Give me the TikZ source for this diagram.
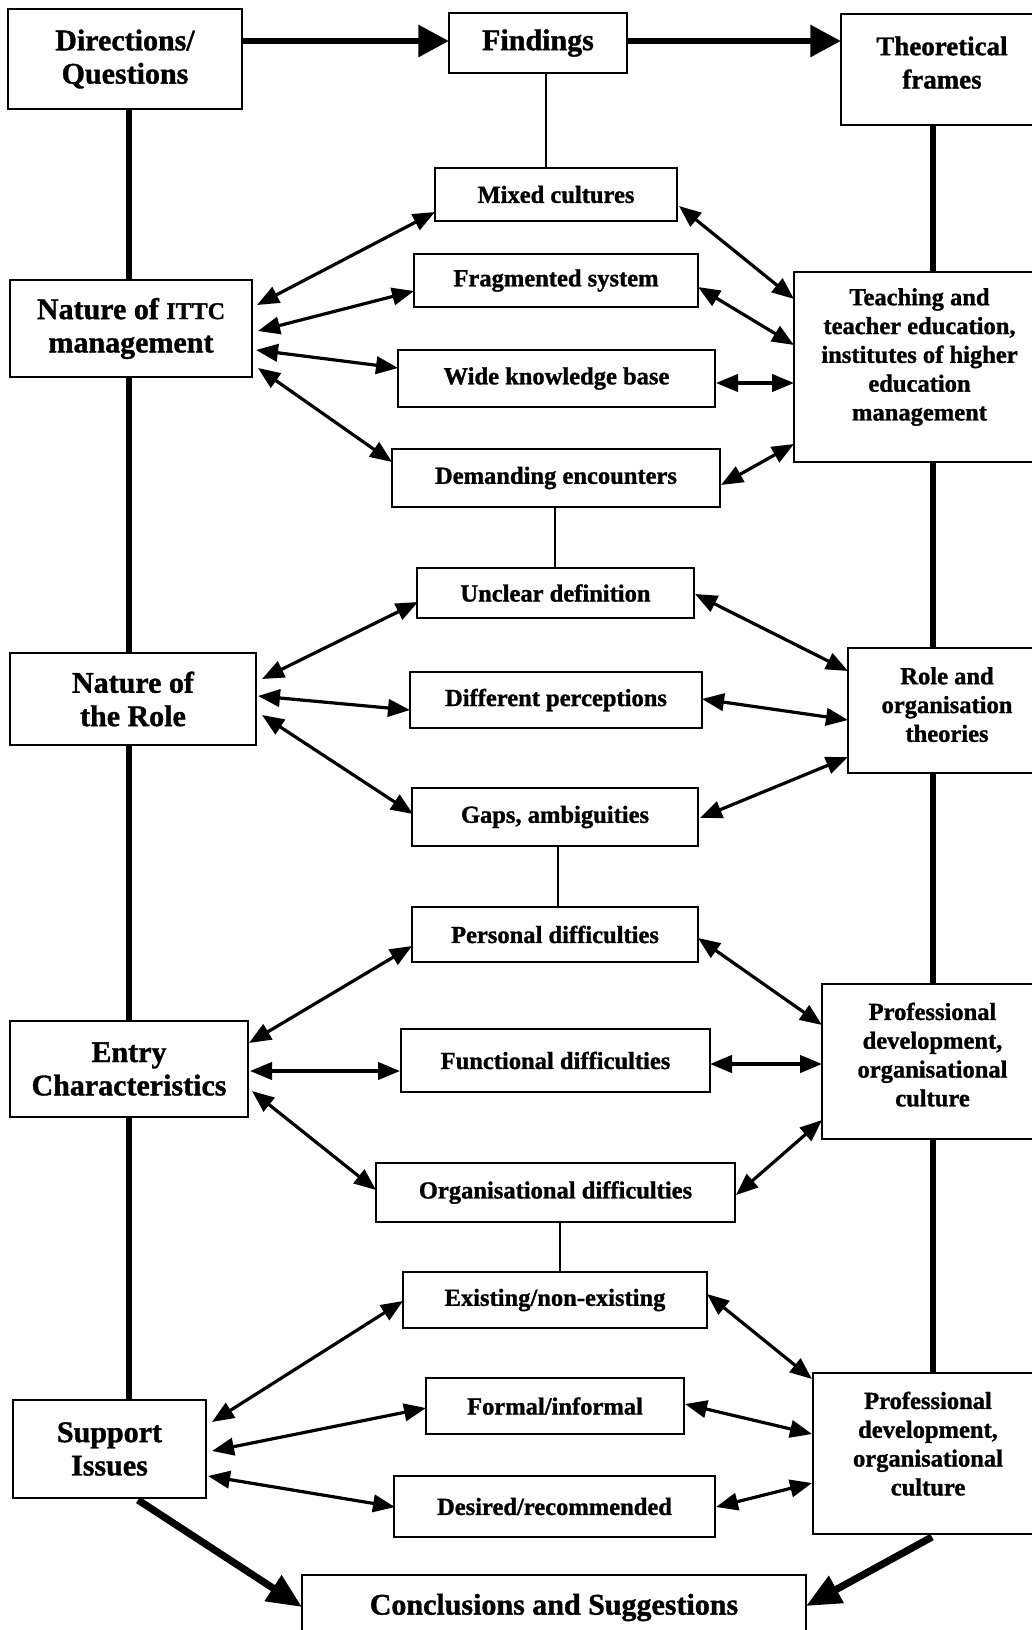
\documentclass[tikz,border=0pt]{standalone}
\usepackage{fontspec}
\setmainfont{Liberation Serif}[BoldFeatures={FakeBold=1.2}]
\usetikzlibrary{arrows.meta,calc}
% extra depth under the last line lifts a block of text inside its box
\newcommand\padbelow[1]{\rule[-#1]{0pt}{#1}}
\begin{document}
\begin{tikzpicture}[x=0.75pt,y=-0.75pt,
  wh/.style 2 args={minimum width=#1*0.75pt, minimum height=#2*0.75pt},
  boxbase/.style={draw, line width=2pt, outer sep=0pt, inner sep=0pt, align=center},
  bigbox/.style={boxbase, font=\bfseries\fontsize{22.5}{25}\selectfont},
  smallbox/.style={boxbase, font=\bfseries\fontsize{18.4}{21.6}\selectfont},
  link/.style={line width=2.4pt, {Triangle[length=16.5pt,width=13pt]}-{Triangle[length=16.5pt,width=13pt]}},
  flow/.style={line width=5.2pt, -{Triangle[length=23pt,width=23pt]}},
  exitflow/.style={line width=5.4pt, -{Triangle[length=26pt,width=22pt]}},
  spine/.style={line width=4.5pt},
  stem/.style={line width=1.9pt}]
\useasboundingbox (0,0) rectangle (1031,1630);

% ---- headings ----
\node[bigbox, wh={234}{100}] (dq) at (125,59) {Directions/\\Questions};
\node[bigbox, wh={178}{60}] (fnd) at (538,43) {Findings};
\node[bigbox, wh={202}{111}, font=\bfseries\fontsize{20.2}{25}\selectfont] (tf) at (942,69.5) {Theoretical\\frames\padbelow{10.5pt}};

% ---- left column: directions ----
\node[bigbox, wh={242}{97}] (ittc) at (131,328.5) {Nature of {\fontsize{18}{25}\selectfont ITTC}\\management};
\node[bigbox, wh={246}{92}] (role) at (133,699) {Nature of\\the Role};
\node[bigbox, wh={238}{96}] (entry) at (129,1069) {Entry\\Characteristics};
\node[bigbox, wh={193}{98}] (sup) at (109.5,1449) {Support\\Issues};

% ---- middle column: findings ----
\node[smallbox, wh={242}{53}] (mix) at (556,194.5) {Mixed cultures};
\node[smallbox, wh={284}{53}] (frag) at (556,280.5) {Fragmented system};
\node[smallbox, wh={317}{57}] (wide) at (556.5,378.5) {Wide knowledge base};
\node[smallbox, wh={328}{58}] (dem) at (556,478) {Demanding encounters};

\node[smallbox, wh={277}{50}] (unc) at (555.5,593) {Unclear definition};
\node[smallbox, wh={292}{56}] (diff) at (556,700) {Different perceptions};
\node[smallbox, wh={286}{58}] (gaps) at (555,817) {Gaps, ambiguities};

\node[smallbox, wh={286}{55}] (pers) at (555,934.5) {Personal difficulties};
\node[smallbox, wh={309}{63}] (func) at (555.5,1060.5) {Functional difficulties};
\node[smallbox, wh={359}{59}] (org) at (555.5,1192.5) {Organisational difficulties};

\node[smallbox, wh={304}{56}] (exist) at (555,1300) {Existing/non-existing};
\node[smallbox, wh={258}{56}] (formal) at (555,1406) {Formal/informal};
\node[smallbox, wh={321}{61}] (des) at (554.5,1506.5) {Desired/recommended};

% ---- right column: theoretical frames ----
\node[smallbox, wh={251}{190}] (teach) at (919.5,367) {Teaching and\\teacher education,\\institutes of higher\\education\\management\padbelow{19pt}};
\node[smallbox, wh={198}{125}] (rot) at (947,710.5) {Role and\\organisation\\theories\padbelow{9pt}};
\node[smallbox, wh={221}{155}] (pd1) at (932.5,1061.5) {Professional\\development,\\organisational\\culture\padbelow{10.5pt}};
\node[smallbox, wh={230}{161}] (pd2) at (928,1453.5) {Professional\\development,\\organisational\\culture\padbelow{15pt}};

% ---- conclusions ----
\node[bigbox, wh={504}{65}] (concl) at (554,1607.5) {Conclusions and Suggestions};

% ---- spines ----
\coordinate (L) at (129,0);
\coordinate (R) at (933,0);
\draw[spine] (dq.south -| L) -- (ittc.north -| L);
\draw[spine] (ittc.south -| L) -- (role.north -| L);
\draw[spine] (role.south -| L) -- (entry.north -| L);
\draw[spine] (entry.south -| L) -- (sup.north -| L);
\draw[spine] (tf.south -| R) -- (teach.north -| R);
\draw[spine] (teach.south -| R) -- (rot.north -| R);
\draw[spine] (rot.south -| R) -- (pd1.north -| R);
\draw[spine] (pd1.south -| R) -- (pd2.north -| R);

\coordinate (C1) at (546,0);
\coordinate (C2) at (555,0);
\coordinate (C3) at (558,0);
\coordinate (C4) at (560,0);
\draw[stem] (fnd.south -| C1) -- (mix.north -| C1);
\draw[stem] (dem.south -| C2) -- (unc.north -| C2);
\draw[stem] (gaps.south -| C3) -- (pers.north -| C3);
\draw[stem] (org.south -| C4) -- (exist.north -| C4);

% ---- main flow ----
\draw[flow] ($(dq.north east)+(0,32)$) -- ($(fnd.north west)+(0,28)$);
\draw[flow] ($(fnd.north east)+(0,28)$) -- ($(tf.north west)+(0,27)$);
\draw[exitflow] ($(sup.south)+(28.5,2)$) -- ($(concl.north west)+(0,32)$);
\draw[exitflow] ($(pd2.south west)+(119,3)$) -- ($(concl.north east)+(0,31)$);

% ---- nature of ITTC management ----
\draw[link] ($(ittc.north east)+(5,25)$) -- ($(mix.south west)+(0,-9)$);
\draw[link] ($(ittc.north east)+(6,51)$) -- ($(frag.south west)+(0,-16)$);
\draw[link] ($(ittc.north east)+(4,70)$) -- ($(wide.west)+(0,-10.5)$);
\draw[link] ($(ittc.south east)+(6,-9)$) -- ($(dem.west)+(0,-16)$);
\draw[link] ($(mix.east)+(2,11.5)$) -- ($(teach.north west)+(0,27)$);
\draw[link] ($(frag.east)+(0,6.5)$) -- ($(teach.north west)+(0,73)$);
\draw[link] ($(wide.east)+(1,4.5)$) -- ($(teach.north west)+(0,111)$);
\draw[link] ($(dem.east)+(1,7)$) -- ($(teach.south west)+(0,-18)$);

% ---- nature of the role ----
\draw[link] ($(role.north east)+(6,26)$) -- ($(unc.south west)+(1,-16)$);
\draw[link] ($(role.north east)+(2,43)$) -- ($(diff.west)+(0,10)$);
\draw[link] ($(role.north east)+(6,62)$) -- ($(gaps.west)+(1,-3)$);
\draw[link] ($(unc.east)+(1,1)$) -- ($(rot.north west)+(0,23)$);
\draw[link] ($(diff.east)+(0,-1)$) -- ($(rot.north west)+(0,72)$);
\draw[link] ($(gaps.east)+(2,1)$) -- ($(rot.south west)+(0,-16)$);

% ---- entry characteristics ----
\draw[link] ($(entry.north east)+(1,22)$) -- ($(pers.south west)+(0,-16)$);
\draw[link] ($(entry.north east)+(2,50)$) -- ($(func.west)+(-1,10.5)$);
\draw[link] ($(entry.north east)+(4,70)$) -- ($(org.west)+(0,-2.5)$);
\draw[link] ($(pers.east)+(0,3.5)$) -- ($(pd1.north west)+(0,41)$);
\draw[link] ($(func.east)+(0,3.5)$) -- ($(pd1.north west)+(0,80)$);
\draw[link] ($(org.east)+(1,2.5)$) -- ($(pd1.south west)+(0,-19)$);

% ---- support issues ----
\draw[link] ($(sup.north east)+(6,22)$) -- ($(exist.west)+(0,1)$);
\draw[link] ($(sup.north east)+(6,51)$) -- ($(formal.west)+(0,2)$);
\draw[link] ($(sup.north east)+(2,76)$) -- ($(des.west)+(1,0.5)$);
\draw[link] ($(exist.east)+(0,-6)$) -- ($(pd2.north west)+(-1,6)$);
\draw[link] ($(formal.east)+(1,-2)$) -- ($(pd2.north west)+(-1,61)$);
\draw[link] ($(des.east)+(1,0.5)$) -- ($(pd2.north west)+(-1,110)$);
\end{tikzpicture}
\end{document}
